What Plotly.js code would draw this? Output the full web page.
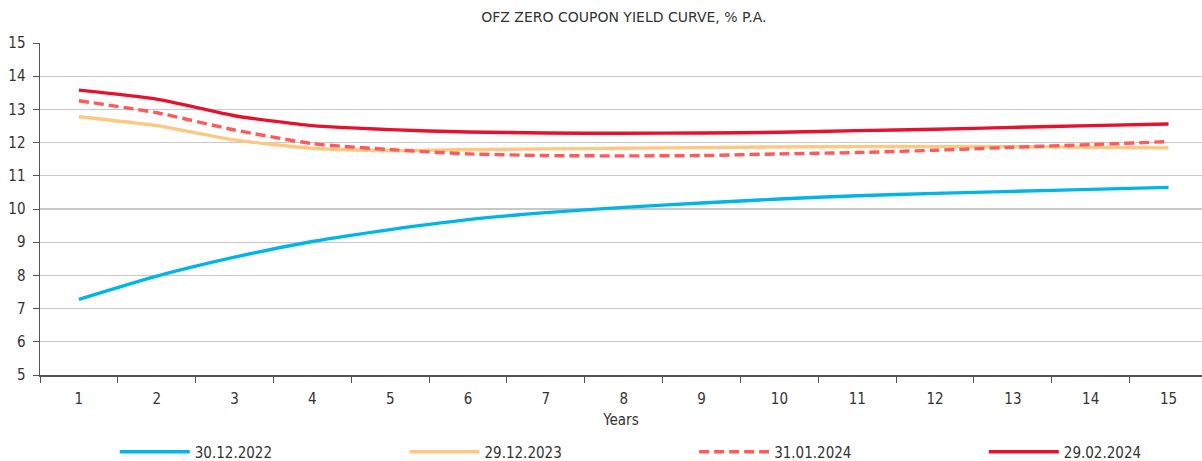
<!DOCTYPE html>
<html>
<head>
<meta charset="utf-8">
<script src="https://cdn.plot.ly/plotly-3.0.1.min.js"></script>
<style>html,body{margin:0;padding:0;background:#fff;}#chart{width:1202px;height:461px;}</style>
</head>
<body>
<div id="chart"></div>
<script>
const years = ["1","2","3","4","5","6","7","8","9","10","11","12","13","14","15"];
const s2022 = [7.28, 7.98, 8.55, 9.02, 9.38, 9.68, 9.89, 10.05, 10.18, 10.30, 10.40, 10.47, 10.53, 10.59, 10.65];
const s2023 = [12.78, 12.51, 12.08, 11.83, 11.76, 11.79, 11.81, 11.83, 11.85, 11.87, 11.88, 11.88, 11.88, 11.86, 11.84];
const s2401 = [13.26, 12.90, 12.38, 11.97, 11.79, 11.66, 11.61, 11.60, 11.61, 11.66, 11.70, 11.77, 11.86, 11.94, 12.03];
const s2402 = [13.58, 13.31, 12.81, 12.51, 12.39, 12.32, 12.29, 12.28, 12.29, 12.31, 12.36, 12.40, 12.46, 12.51, 12.56];
const names = ["30.12.2022", "29.12.2023", "31.01.2024", "29.02.2024"];

const FONT = '"DejaVu Sans Condensed", "Liberation Sans Narrow", "DejaVu Sans", sans-serif';
const fnt = (s) => ({family: FONT, size: s, color: '#333', stretch: 'condensed'});
const legendIds = ['legend', 'legend2', 'legend3', 'legend4'];
const mk = (y, i, color, dash) => ({
  x: years, y: y, name: names[i], type: 'scatter', mode: 'lines', legend: legendIds[i],
  line: {color: color, width: 3.4, dash: dash || 'solid', shape: 'spline', smoothing: 0.6}
});
const data = [
  mk(s2022, 0, '#00B5E8'),
  mk(s2023, 1, '#FFC882'),
  mk(s2401, 2, '#FF5A5A', '10px,5px'),
  mk(s2402, 3, '#E8112D')
];
const legPos = [0.0955, 0.3365, 0.5775, 0.8185];
const layout = {
  width: 1202, height: 461,
  margin: {l: 40, r: 0, t: 43, b: 86},
  paper_bgcolor: '#fff', plot_bgcolor: '#fff',
  font: fnt(14),
  title: {text: 'OFZ ZERO COUPON YIELD CURVE, % P.A.', x: 0.519, xref: 'container', y: 0.963, yanchor: 'middle',
          font: {family: '"DejaVu Sans", sans-serif', size: 14, color: '#333', stretch: 'condensed'}},
  xaxis: {
    type: 'category', range: [-0.5, 14.43], tickson: 'boundaries',
    ticks: 'outside', ticklen: 6, tickcolor: '#555', tickwidth: 1,
    showline: true, linecolor: '#555', linewidth: 1.5,
    showgrid: false, zeroline: false,
    tickfont: fnt(15), ticklabelstandoff: 9,
    title: {text: 'Years', font: fnt(15), standoff: 8},
    fixedrange: true
  },
  yaxis: {
    range: [5, 15], dtick: 1, tick0: 5,
    ticks: 'outside', ticklen: 6, tickcolor: '#555', tickwidth: 1,
    showline: true, linecolor: '#555', linewidth: 1.5,
    showgrid: true, gridcolor: '#c8c8c8', gridwidth: 1.2, zeroline: false,
    tickfont: fnt(15), ticklabelstandoff: 4,
    fixedrange: true
  },
  showlegend: true
};
legendIds.forEach((id, i) => {
  layout[id] = {
    orientation: 'h', x: legPos[i], xref: 'container', xanchor: 'left',
    y: 0.0195, yref: 'container', yanchor: 'middle',
    itemwidth: 70, font: fnt(15), bgcolor: 'rgba(0,0,0,0)'
  };
});
Plotly.newPlot('chart', data, layout, {displayModeBar: false, staticPlot: true});
</script>
</body>
</html>
